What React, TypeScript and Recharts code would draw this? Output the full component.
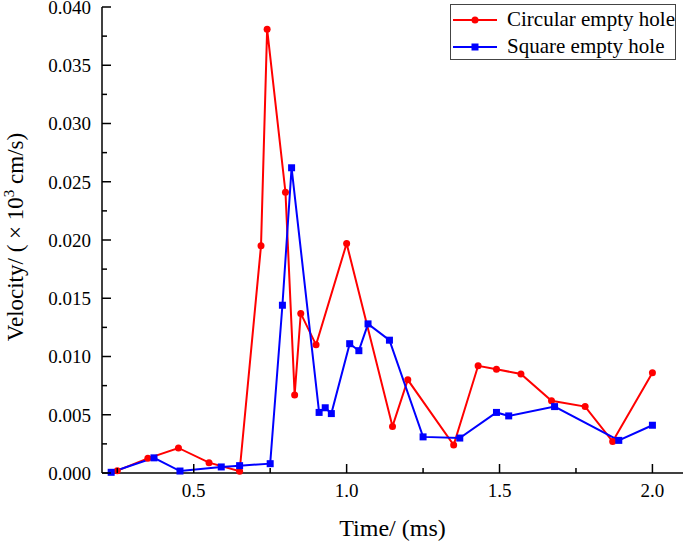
import { LineChart, Line, XAxis, YAxis, Legend, Label } from 'recharts'

// time (ms) / velocity (x10^3 cm/s)
const circularTime = [0.25, 0.35, 0.45, 0.55, 0.65, 0.72, 0.74, 0.8, 0.83, 0.85, 0.9, 1.0, 1.15, 1.2, 1.35, 1.43, 1.49, 1.57, 1.67, 1.78, 1.87, 2.0]
const circularVel = [0.0002, 0.00126, 0.00215, 0.00089, 0.00015, 0.0195, 0.0381, 0.0241, 0.0067, 0.0137, 0.011, 0.0197, 0.004, 0.008, 0.0024, 0.0092, 0.0089, 0.0085, 0.0062, 0.0057, 0.0027, 0.0086]

const squareTime = [0.23, 0.37, 0.455, 0.59, 0.65, 0.75, 0.79, 0.82, 0.91, 0.93, 0.95, 1.01, 1.04, 1.07, 1.14, 1.25, 1.37, 1.49, 1.53, 1.68, 1.89, 2.0]
const squareVel = [0.00006, 0.0013, 0.00017, 0.00052, 0.00063, 0.0008, 0.0144, 0.0262, 0.0052, 0.0056, 0.0051, 0.0111, 0.0105, 0.0128, 0.0114, 0.0031, 0.003, 0.0052, 0.0049, 0.0057, 0.0028, 0.0041]

const xTicks = [0.25, 0.5, 0.75, 1.0, 1.25, 1.5, 1.75, 2.0]
const yTicks = [0, 0.0025, 0.005, 0.0075, 0.01, 0.0125, 0.015, 0.0175, 0.02, 0.0225, 0.025, 0.0275, 0.03, 0.0325, 0.035, 0.0375, 0.04]

const seriesNames = ['Circular empty hole', 'Square empty hole']
const RED = '#ff0000'
const BLUE = '#0000ff'
const FONT = 'Liberation Serif, serif'

const circularData = circularTime.map((t, i) => ({ t, v: circularVel[i] }))
const squareData = squareTime.map((t, i) => ({ t, v: squareVel[i] }))

const isMult = (v: number, step: number) => Math.abs(v / step - Math.round(v / step)) < 1e-6

function XTick({ x, y, payload }: any) {
    const major = isMult(payload.value, 0.5)
    return (
        <g>
            <line x1={x} x2={x} y1={y} y2={y - (major ? 9 : 5)} stroke="#000" strokeWidth={1.5} />
            {major && (
                <text x={x} y={y + 24} textAnchor="middle" fontFamily={FONT} fontSize={19} fill="#000">
                    {payload.value.toFixed(1)}
                </text>
            )}
        </g>
    )
}

function YTick({ x, y, payload }: any) {
    const major = isMult(payload.value, 0.005)
    return (
        <g>
            <line x1={x} x2={x + (major ? 9 : 5)} y1={y} y2={y} stroke="#000" strokeWidth={1.5} />
            {major && (
                <text x={x - 11} y={y} dy="0.36em" textAnchor="end" fontFamily={FONT} fontSize={19} fill="#000">
                    {payload.value.toFixed(3)}
                </text>
            )}
        </g>
    )
}

function YTitle() {
    return (
        <text transform="translate(23,237) rotate(-90)" textAnchor="middle" fontFamily={FONT} fontSize={23} fill="#000">
            <tspan>Velocity/ ( × 10</tspan>
            <tspan dy={-9} fontSize={15}>3</tspan>
            <tspan dy={9}> cm/s)</tspan>
        </text>
    )
}

function SquareDot({ cx, cy, index }: any) {
    return <rect key={'sq' + index} x={cx - 3.5} y={cy - 3.5} width={7} height={7} fill={BLUE} />
}

function LegendBox() {
    const colors = [RED, BLUE]
    return (
        <div style={{ border: '1px solid #444', width: 224, height: 54, background: '#fff', fontFamily: FONT }}>
            {seriesNames.map((name, i) => (
                <div key={name} style={{ display: 'flex', alignItems: 'center', height: 27, marginTop: i === 0 ? 1 : 0 }}>
                    <svg width={54} height={10} style={{ marginLeft: 2, flex: 'none' }}>
                        <line x1={0} x2={44} y1={5} y2={5} stroke={colors[i]} strokeWidth={2} />
                        {i === 0 ? <circle cx={22} cy={5} r={3.5} fill={RED} /> : <rect x={18.5} y={1.5} width={7} height={7} fill={BLUE} />}
                    </svg>
                    <span style={{ fontSize: 21, color: '#000', whiteSpace: 'nowrap' }}>{name}</span>
                </div>
            ))}
        </div>
    )
}

export default function App() {
    return (
        <div style={{ position: 'absolute', left: 0, top: 0, background: '#fff' }}>
            <LineChart width={685} height={542} margin={{ top: 7, right: 2, bottom: 0, left: 0 }}>
                <XAxis
                    type="number"
                    dataKey="t"
                    domain={[0.2, 2.1]}
                    ticks={xTicks}
                    interval={0}
                    tickSize={0}
                    tickMargin={0}
                    tickLine={false}
                    tick={<XTick />}
                    height={69}
                    axisLine={{ stroke: '#000', strokeWidth: 1.5 }}
                    allowDuplicatedCategory={false}
                >
                    <Label value="Time/ (ms)" position="insideBottom" offset={6} fontFamily={FONT} fontSize={24} fill="#000" />
                </XAxis>
                <YAxis
                    type="number"
                    domain={[0, 0.04]}
                    ticks={yTicks}
                    interval={0}
                    tickSize={0}
                    tickMargin={0}
                    tickLine={false}
                    tick={<YTick />}
                    width={102}
                    axisLine={{ stroke: '#000', strokeWidth: 1.5 }}
                    label={<Label content={<YTitle />} />}
                />
                <Legend
                    layout="vertical"
                    align="center"
                    verticalAlign="middle"
                    wrapperStyle={{ top: 4, left: 450, width: 226 }}
                    content={<LegendBox />}
                />
                <Line
                    data={circularData}
                    dataKey="v"
                    name={seriesNames[0]}
                    stroke={RED}
                    strokeWidth={2}
                    dot={{ r: 3.5, fill: RED, stroke: RED, strokeWidth: 0 }}
                    activeDot={false}
                    isAnimationActive={false}
                />
                <Line
                    data={squareData}
                    dataKey="v"
                    name={seriesNames[1]}
                    stroke={BLUE}
                    strokeWidth={2}
                    dot={<SquareDot />}
                    activeDot={false}
                    isAnimationActive={false}
                />
            </LineChart>
        </div>
    )
}
